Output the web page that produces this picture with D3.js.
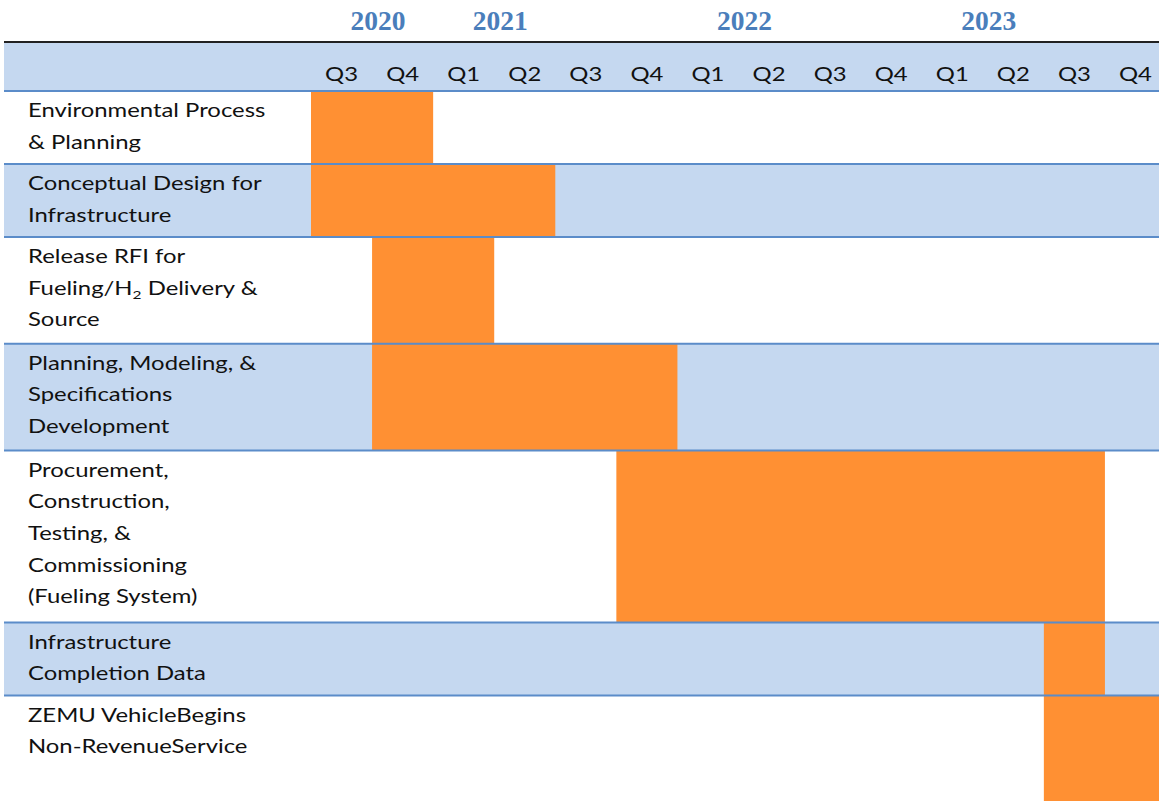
<!DOCTYPE html>
<html><head><meta charset="utf-8">
<script src="https://cdn.jsdelivr.net/npm/d3@7"></script>
<style>html,body{margin:0;padding:0;background:#fff;overflow:hidden}</style>
</head><body><svg id="chart" width="1159" height="801"></svg>
<script>
// ---- data ----
const quarters = ["Q3 2020","Q4 2020","Q1 2021","Q2 2021","Q3 2021","Q4 2021",
  "Q1 2022","Q2 2022","Q3 2022","Q4 2022","Q1 2023","Q2 2023","Q3 2023","Q4 2023"];
const years = ["2020","2021","2022","2023"];
const yearAnchors = ["Q4 2020","Q2 2021","Q2 2022","Q2 2023"];
const taskNames = [
  "Environmental Process\n& Planning",
  "Conceptual Design for\nInfrastructure",
  "Release RFI for\nFueling/H₂ Delivery &\nSource",
  "Planning, Modeling, &\nSpecifications\nDevelopment",
  "Procurement,\nConstruction,\nTesting, &\nCommissioning\n(Fueling System)",
  "Infrastructure\nCompletion Data",
  "ZEMU VehicleBegins\nNon-RevenueService"
];
const taskStart = ["Q3 2020","Q3 2020","Q4 2020","Q4 2020","Q4 2021","Q3 2023","Q3 2023"];
const taskEnd   = ["Q4 2020","Q2 2021","Q1 2021","Q4 2021","Q3 2023","Q3 2023","Q4 2023"];

// ---- layout ----
const W = 1159, H = 801, left = 4;
const topLineY = 42, headerTop = 43, headerBottom = 91;
const blue = "#c5d8f0", lineBlue = "#5b8cc9", orange = "#ff9033";
const sansFont = "Lato, 'Open Sans', sans-serif";
const sx = 1.29;           // horizontal stretch of sans text
const lineStep = 31.7;

const svg = d3.select("#chart");
const x = d3.scaleBand().domain(quarters).range([311, 1166]).paddingInner(0).paddingOuter(0);

// row geometry from line counts
const lines = taskNames.map(t => t.split("\n"));
const rows = [];
let yCur = headerBottom;
lines.forEach((l, i) => {
  const h = (i === lines.length - 1) ? (H - yCur) : 33 * l.length + 7 + (l.length === 3 ? 0.8 : 0);
  rows.push({y0: yCur, y1: yCur + h, lines: l, start: taskStart[i], end: taskEnd[i], i});
  yCur += h;
});

// row backgrounds
svg.append("g").selectAll("rect").data(rows).join("rect")
  .attr("x", left).attr("width", W - left)
  .attr("y", d => d.y0).attr("height", d => d.y1 - d.y0)
  .attr("fill", d => d.i % 2 === 1 ? blue : "#fff");

// header band
svg.append("rect").attr("x", left).attr("width", W - left)
  .attr("y", headerTop).attr("height", headerBottom - headerTop).attr("fill", blue);

// bars
svg.append("g").selectAll("rect").data(rows).join("rect")
  .attr("x", d => x(d.start))
  .attr("width", d => x(d.end) + x.bandwidth() - x(d.start))
  .attr("y", d => d.y0).attr("height", d => d.y1 - d.y0)
  .attr("fill", orange);

// lines
svg.append("line").attr("x1", left).attr("x2", W).attr("y1", topLineY).attr("y2", topLineY)
  .attr("stroke", "#222").attr("stroke-width", 2);
const boundaries = [headerBottom].concat(rows.slice(0, -1).map(r => r.y1));
svg.append("g").selectAll("line").data(boundaries).join("line")
  .attr("x1", left).attr("x2", W).attr("y1", d => d).attr("y2", d => d)
  .attr("stroke", lineBlue).attr("stroke-width", 2);

// quarter axis labels
const axis = d3.axisTop(x).tickSize(0).tickPadding(0).tickFormat(d => d.split(" ")[0]);
const ag = svg.append("g").attr("transform", `translate(0,81)`).call(axis);
ag.select(".domain").remove();
ag.selectAll("text").attr("font-family", sansFont).attr("font-size", 18.5)
  .attr("fill", "#111").attr("dy", 0).attr("transform", `scale(${sx},1)`);

// year labels
svg.append("g").selectAll("text").data(years).join("text")
  .attr("x", (d, i) => x(yearAnchors[i]) + 6).attr("y", 30)
  .attr("text-anchor", "middle")
  .attr("font-family", "'Liberation Serif', 'Times New Roman', serif")
  .attr("font-weight", "bold").attr("font-size", 27.5)
  .attr("fill", "#4a7ebb").text(d => d);

// task labels
const tg = svg.append("g").selectAll("g").data(rows).join("g")
  .attr("transform", d => `translate(28,${d.y0 + 26}) scale(${sx},1)`);
tg.each(function(d) {
  const g = d3.select(this);
  d.lines.forEach((ln, k) => {
    const t = g.append("text").attr("x", 0).attr("y", k * lineStep)
      .attr("font-family", sansFont).attr("font-size", 18.5).attr("fill", "#111");
    const parts = ln.split("₂");
    if (parts.length === 1) { t.text(ln); }
    else {
      t.append("tspan").text(parts[0]);
      t.append("tspan").attr("font-size", 12).attr("dy", 4).text("2");
      t.append("tspan").attr("dy", -4).text(parts[1]);
    }
  });
});
</script></body></html>
